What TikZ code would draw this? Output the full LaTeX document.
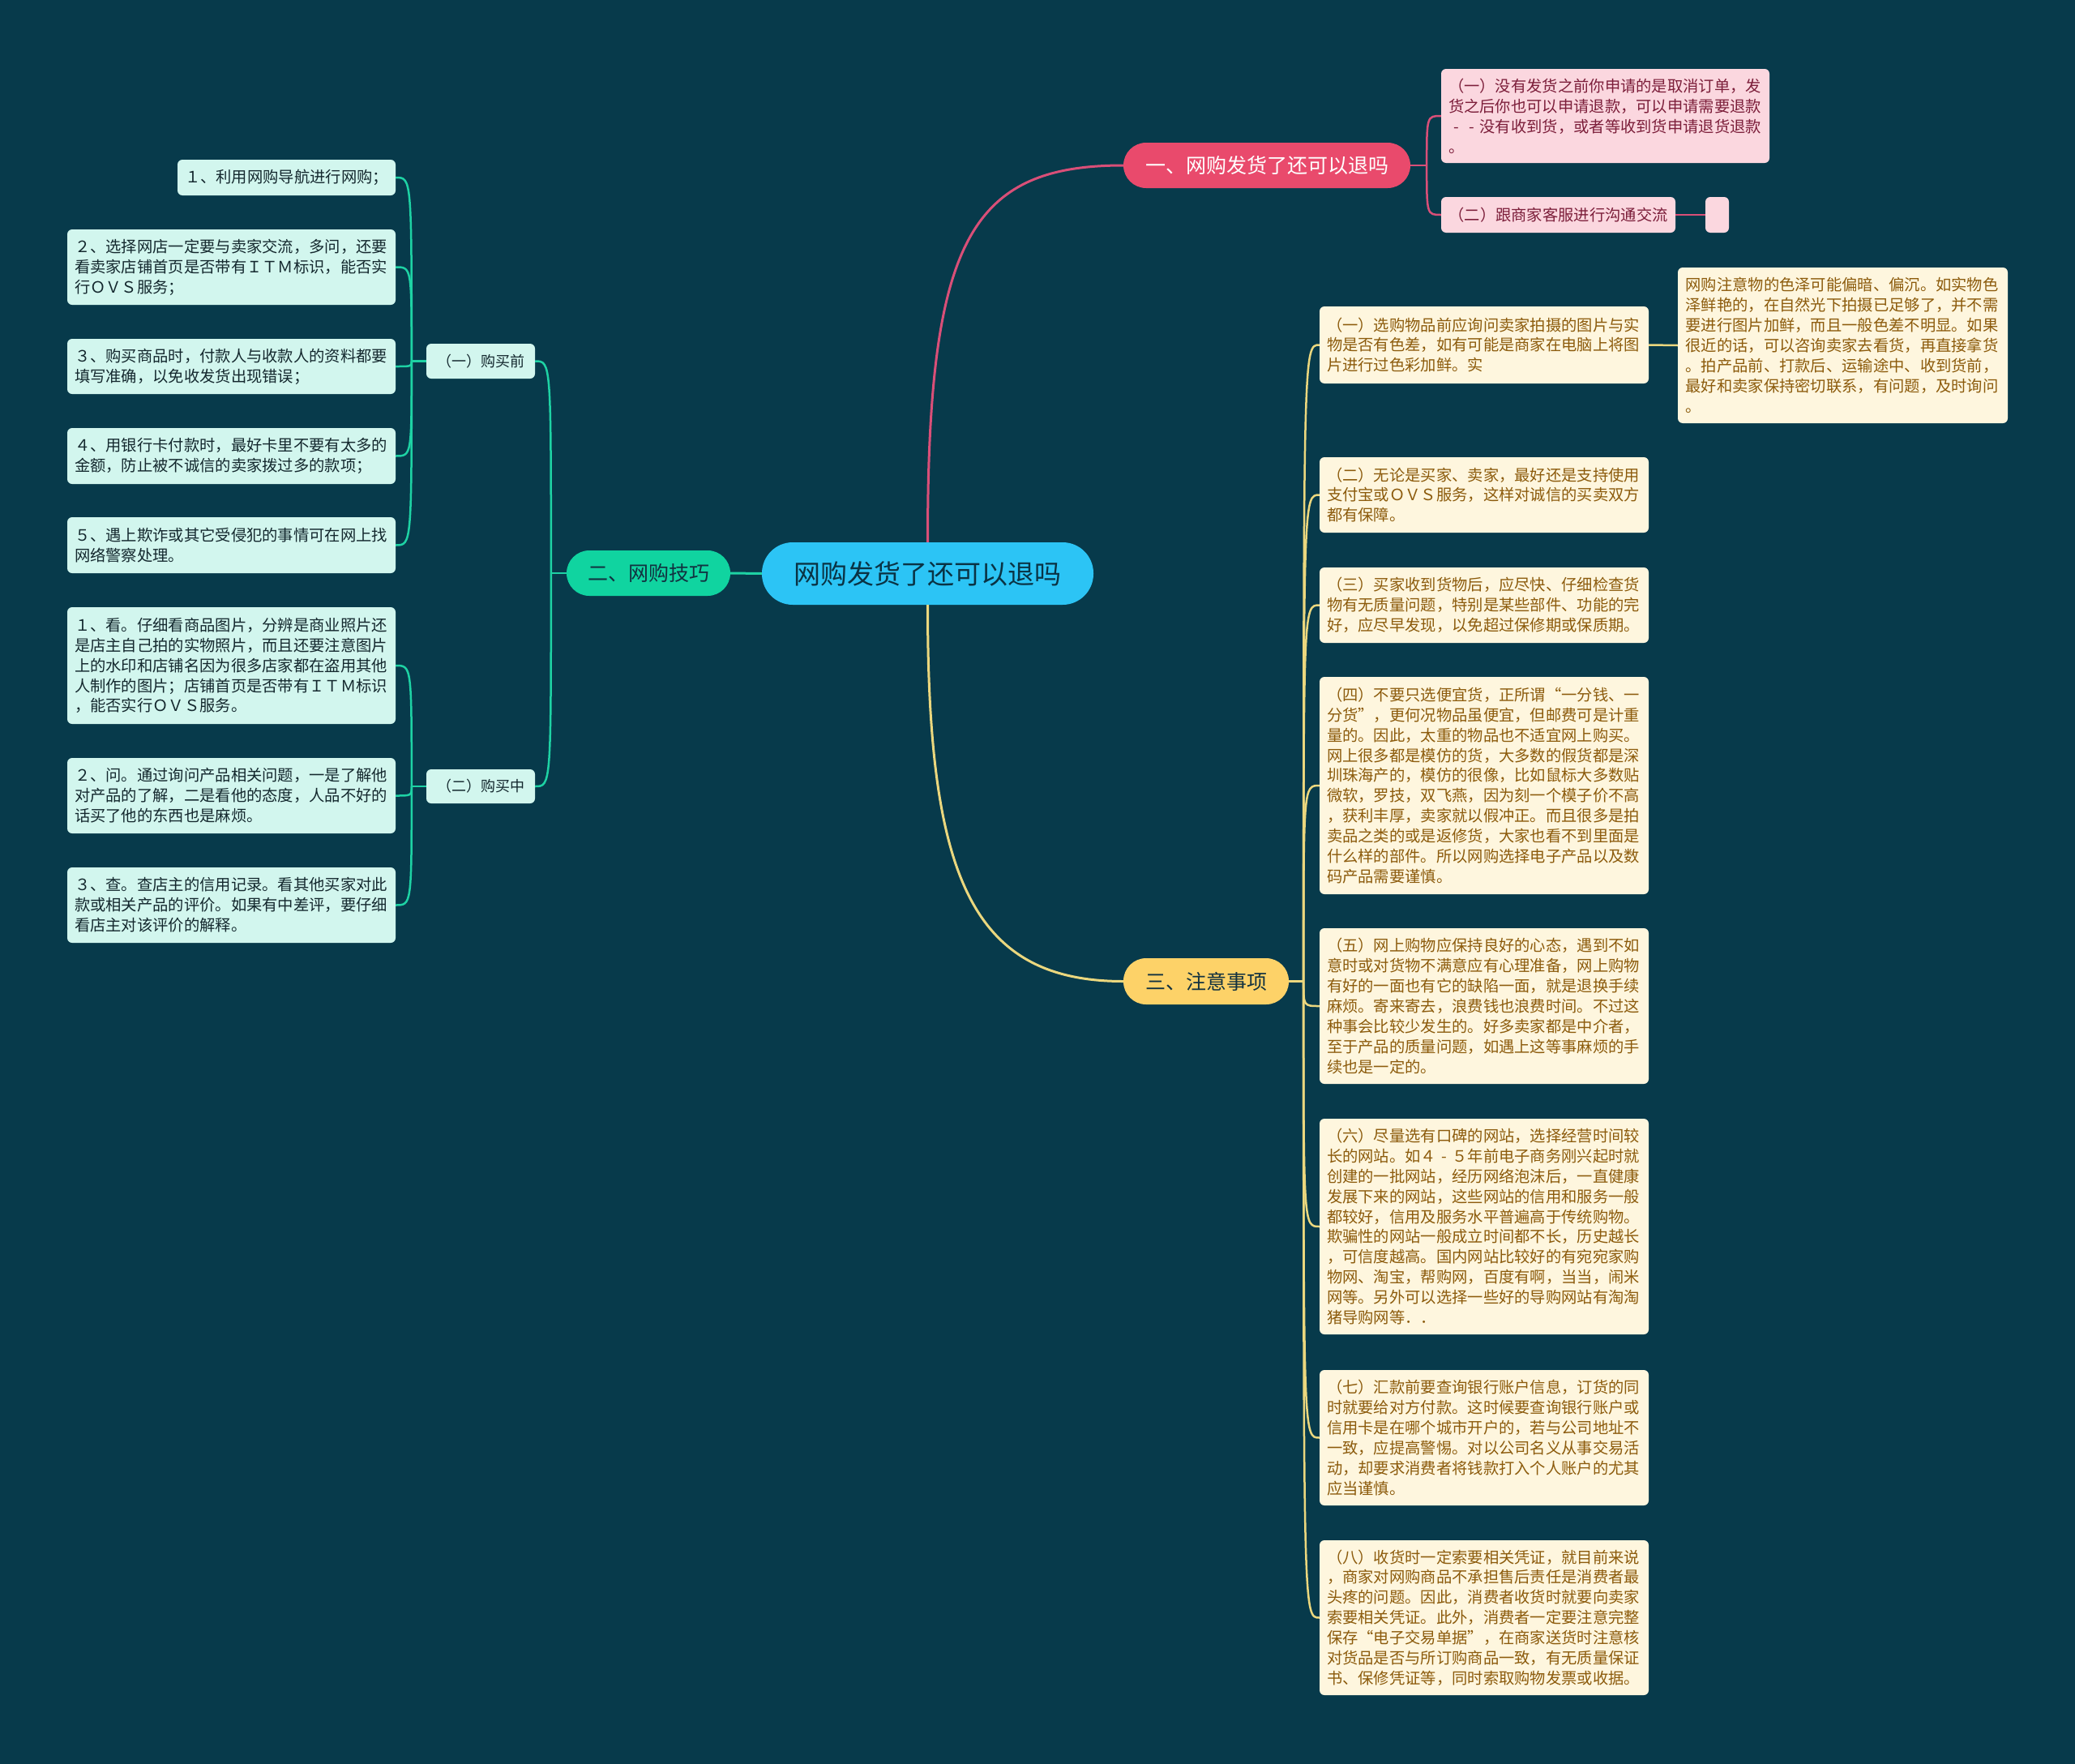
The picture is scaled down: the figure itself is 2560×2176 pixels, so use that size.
\documentclass[tikz,border=0pt]{standalone}
\usepackage{fontspec}
\setmainfont{Noto Sans CJK SC}
\definecolor{bg}{HTML}{073A4B}
\definecolor{cfill}{HTML}{2CC4F5}
\definecolor{ctext}{HTML}{0A3344}
\definecolor{b1fill}{HTML}{E94A6C}
\definecolor{b2fill}{HTML}{10D4A0}
\definecolor{b3fill}{HTML}{FDD268}
\definecolor{btext}{HTML}{123240}
\definecolor{pinkfill}{HTML}{FBD7DF}
\definecolor{pinktext}{HTML}{7C1E3A}
\definecolor{mintfill}{HTML}{D2F6EE}
\definecolor{minttext}{HTML}{14282E}
\definecolor{creamfill}{HTML}{FEF6DE}
\definecolor{creamtext}{HTML}{8C5B0C}
\definecolor{pinkline}{HTML}{D94F78}
\definecolor{greenline}{HTML}{1ED2A4}
\definecolor{yellowline}{HTML}{EBD77E}
\newcommand{\emdash}{\makebox[1em]{-}}
\begin{document}
\begin{tikzpicture}[x=1pt,y=-1pt,
  box/.style={rectangle, rounded corners=6pt, inner sep=0pt, font=\fontsize{19.3}{24.9}\selectfont},
  mintbox/.style={box, fill=mintfill, text=minttext},
  creambox/.style={box, fill=creamfill, text=creamtext},
  pinkbox/.style={box, fill=pinkfill, text=pinktext},
  tw/.style={align=left, text width=#1},
  branch/.style={rectangle, rounded corners=28pt, inner sep=0pt, minimum height=56pt, font=\fontsize{25}{30}\selectfont},
  gline/.style={draw=greenline, line width=2.5pt},
  pline/.style={draw=pinkline, line width=2.5pt},
  yline/.style={draw=yellowline, line width=2.5pt},
]
\useasboundingbox (0,0) rectangle (2560,2176);
\fill[bg] (0,0) rectangle (2560,2176);

% central and main branches
\node[rectangle, rounded corners=38pt, inner sep=0pt, fill=cfill, text=ctext, minimum width=409pt, minimum height=77pt, font=\fontsize{33}{38}\selectfont] (c) at (1144.5,707.5) {网购发货了还可以退吗};
\node[branch, fill=b1fill, text=white, minimum width=354pt] (b1) at (1563,204) {一、网购发货了还可以退吗};
\node[branch, fill=b2fill, text=btext, minimum width=202pt] (b2) at (800,707) {二、网购技巧};
\node[branch, fill=b3fill, text=btext, minimum width=204pt, minimum height=57pt] (b3) at (1488,1210.5) {三、注意事项};

% branch 1 children
\node[pinkbox, tw=387pt, minimum width=405pt, minimum height=116pt] (p1) at (1980.5,143) {（一）没有发货之前你申请的是取消订单，发\\货之后你也可以申请退款，可以申请需要退款\\\emdash\emdash 没有收到货，或者等收到货申请退货退款\\。};
\node[pinkbox, align=center, minimum width=289pt, minimum height=44pt] (p2) at (1922.5,265) {（二）跟商家客服进行沟通交流};
\node[pinkbox, minimum width=29pt, minimum height=44pt] (p3) at (2118.5,265) {};

% branch 2 children
\node[mintbox, align=center, minimum width=134pt, minimum height=43pt, font=\fontsize{18}{22}\selectfont] (k1) at (593,445.5) {（一）购买前};
\node[mintbox, align=center, minimum width=134pt, minimum height=42pt, font=\fontsize{18}{22}\selectfont] (k2) at (593,970) {（二）购买中};

\node[mintbox, align=center, minimum width=269pt, minimum height=44pt] (g1) at (353.5,219) {１、利用网购导航进行网购；};
\node[mintbox, tw=387pt, minimum width=405pt, minimum height=93pt] (g2) at (285.5,329.5) {２、选择网店一定要与卖家交流，多问，还要\\看卖家店铺首页是否带有ＩＴＭ标识，能否实\\行ＯＶＳ服务；};
\node[mintbox, tw=387pt, minimum width=405pt, minimum height=68pt] (g3) at (285.5,452) {３、购买商品时，付款人与收款人的资料都要\\填写准确，以免收发货出现错误；};
\node[mintbox, tw=387pt, minimum width=405pt, minimum height=69pt] (g4) at (285.5,562.5) {４、用银行卡付款时，最好卡里不要有太多的\\金额，防止被不诚信的卖家拨过多的款项；};
\node[mintbox, tw=387pt, minimum width=405pt, minimum height=69pt] (g5) at (285.5,672.5) {５、遇上欺诈或其它受侵犯的事情可在网上找\\网络警察处理。};

\node[mintbox, tw=387pt, minimum width=405pt, minimum height=144pt] (h1) at (285.5,821) {１、看。仔细看商品图片，分辨是商业照片还\\是店主自己拍的实物照片，而且还要注意图片\\上的水印和店铺名因为很多店家都在盗用其他\\人制作的图片；店铺首页是否带有ＩＴＭ标识\\，能否实行ＯＶＳ服务。};
\node[mintbox, tw=387pt, minimum width=405pt, minimum height=93pt] (h2) at (285.5,981.5) {２、问。通过询问产品相关问题，一是了解他\\对产品的了解，二是看他的态度，人品不好的\\话买了他的东西也是麻烦。};
\node[mintbox, tw=387pt, minimum width=405pt, minimum height=93pt] (h3) at (285.5,1116.5) {３、查。查店主的信用记录。看其他买家对此\\款或相关产品的评价。如果有中差评，要仔细\\看店主对该评价的解释。};

% branch 3 children
\node[creambox, tw=388pt, minimum width=406pt, minimum height=95pt] (y1) at (1831,425.5) {（一）选购物品前应询问卖家拍摄的图片与实\\物是否有色差，如有可能是商家在电脑上将图\\片进行过色彩加鲜。实};
\node[creambox, tw=388pt, minimum width=407pt, minimum height=192pt] (yd) at (2273.5,426) {网购注意物的色泽可能偏暗、偏沉。如实物色\\泽鲜艳的，在自然光下拍摄已足够了，并不需\\要进行图片加鲜，而且一般色差不明显。如果\\很近的话，可以咨询卖家去看货，再直接拿货\\。拍产品前、打款后、运输途中、收到货前，\\最好和卖家保持密切联系，有问题，及时询问\\。};
\node[creambox, tw=388pt, minimum width=406pt, minimum height=93pt] (y2) at (1831,610.5) {（二）无论是买家、卖家，最好还是支持使用\\支付宝或ＯＶＳ服务，这样对诚信的买卖双方\\都有保障。};
\node[creambox, tw=388pt, minimum width=406pt, minimum height=93pt] (y3) at (1831,746.5) {（三）买家收到货物后，应尽快、仔细检查货\\物有无质量问题，特别是某些部件、功能的完\\好，应尽早发现，以免超过保修期或保质期。};
\node[creambox, tw=388pt, minimum width=406pt, minimum height=268pt] (y4) at (1831,969) {（四）不要只选便宜货，正所谓“一分钱、一\\分货”，更何况物品虽便宜，但邮费可是计重\\量的。因此，太重的物品也不适宜网上购买。\\网上很多都是模仿的货，大多数的假货都是深\\圳珠海产的，模仿的很像，比如鼠标大多数贴\\微软，罗技，双飞燕，因为刻一个模子价不高\\，获利丰厚，卖家就以假冲正。而且很多是拍\\卖品之类的或是返修货，大家也看不到里面是\\什么样的部件。所以网购选择电子产品以及数\\码产品需要谨慎。};
\node[creambox, tw=388pt, minimum width=406pt, minimum height=192pt] (y5) at (1831,1241) {（五）网上购物应保持良好的心态，遇到不如\\意时或对货物不满意应有心理准备，网上购物\\有好的一面也有它的缺陷一面，就是退换手续\\麻烦。寄来寄去，浪费钱也浪费时间。不过这\\种事会比较少发生的。好多卖家都是中介者，\\至于产品的质量问题，如遇上这等事麻烦的手\\续也是一定的。};
\node[creambox, tw=388pt, minimum width=406pt, minimum height=266pt] (y6) at (1831,1513) {（六）尽量选有口碑的网站，选择经营时间较\\长的网站。如４\emdash ５年前电子商务刚兴起时就\\创建的一批网站，经历网络泡沫后，一直健康\\发展下来的网站，这些网站的信用和服务一般\\都较好，信用及服务水平普遍高于传统购物。\\欺骗性的网站一般成立时间都不长，历史越长\\，可信度越高。国内网站比较好的有宛宛家购\\物网、淘宝，帮购网，百度有啊，当当，闹米\\网等。另外可以选择一些好的导购网站有淘淘\\猪导购网等．．};
\node[creambox, tw=388pt, minimum width=406pt, minimum height=167pt] (y7) at (1831,1773.5) {（七）汇款前要查询银行账户信息，订货的同\\时就要给对方付款。这时候要查询银行账户或\\信用卡是在哪个城市开户的，若与公司地址不\\一致，应提高警惕。对以公司名义从事交易活\\动，却要求消费者将钱款打入个人账户的尤其\\应当谨慎。};
\node[creambox, tw=388pt, minimum width=406pt, minimum height=191pt] (y8) at (1831,1995.5) {（八）收货时一定索要相关凭证，就目前来说\\，商家对网购商品不承担售后责任是消费者最\\头疼的问题。因此，消费者收货时就要向卖家\\索要相关凭证。此外，消费者一定要注意完整\\保存“电子交易单据”，在商家送货时注意核\\对货品是否与所订购商品一致，有无质量保证\\书、保修凭证等，同时索取购物发票或收据。};

% main connectors
\draw[pinkline, line width=3pt] (c.north) .. controls +(0,-370) and +(-190,0) .. (b1.west);
\draw[yellowline, line width=3pt] (c.south) .. controls +(0,330) and +(-190,0) .. (b3.west);
\draw[greenline, line width=3pt] (c.west) -- (b2.east);

% branch 1 connectors
\draw[pline] (b1.east) -- ++(20,0) coordinate (j1);
\foreach \n in {p1,p2} \draw[pline] (j1) .. controls (j1 |- \n.west) .. (\n.west);
\draw[pline] (p2.east) -- (p3.west);

% branch 2 connectors
\draw[gline] (b2.west) -- ++(-19,0) coordinate (j2);
\foreach \n in {k1,k2} \draw[gline] (j2) .. controls (j2 |- \n.east) .. (\n.east);
\draw[gline] (k1.west) -- ++(-18,0) coordinate (jk1);
\foreach \n in {g1,g2,g3,g4,g5} \draw[gline] (jk1) .. controls (jk1 |- \n.east) .. (\n.east);
\draw[gline] (k2.west) -- ++(-18,0) coordinate (jk2);
\foreach \n in {h1,h2,h3} \draw[gline] (jk2) .. controls (jk2 |- \n.east) .. (\n.east);

% branch 3 connectors
\draw[yline] (b3.east) -- ++(18,0) coordinate (j3);
\foreach \n in {y1,y2,y3,y4,y5,y6,y7,y8} \draw[yline] (j3) .. controls (j3 |- \n.west) .. (\n.west);
\draw[yline] (y1.east) -- (yd.west);
\end{tikzpicture}
\end{document}
